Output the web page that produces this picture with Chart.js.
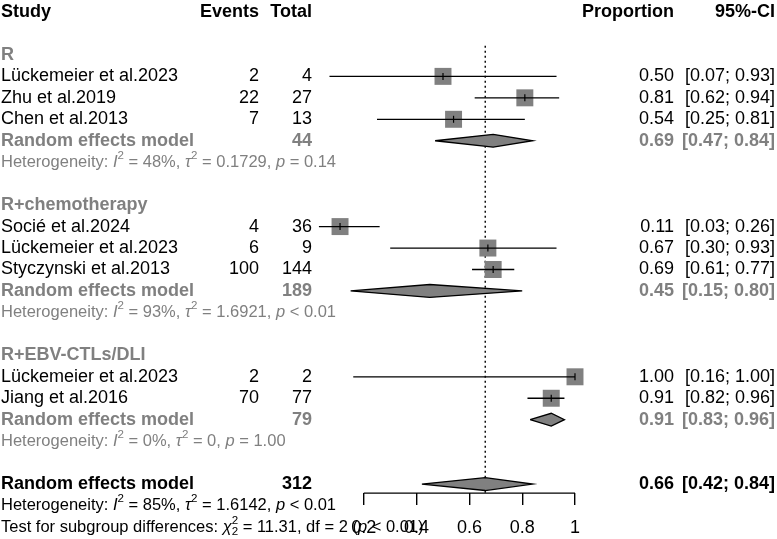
<!DOCTYPE html>
<html>
<head>
<meta charset="utf-8">
<script src="https://cdn.jsdelivr.net/npm/chart.js@4"></script>
<style>
  html, body { margin: 0; padding: 0; background: #fff; }
  #wrap { width: 777px; height: 539px; }
</style>
</head>
<body>
<div id="wrap"><canvas id="forest" width="777" height="539"></canvas></div>
<script>
// ========== DATA ==========

const groupNames = ['R', 'R+chemotherapy', 'R+EBV-CTLs/DLI'];

const studyNames = ['Lückemeier et al.2023', 'Zhu et al.2019', 'Chen et al.2013',
  'Socié et al.2024', 'Lückemeier et al.2023', 'Styczynski et al.2013',
  'Lückemeier et al.2023', 'Jiang et al.2016'];
const studyGroup  = [0, 0, 0, 1, 1, 1, 2, 2];
const studyEvents = [2, 22, 7, 4, 6, 100, 2, 70];
const studyTotals = [4, 27, 13, 36, 9, 144, 2, 77];
const studyProp   = [0.50, 0.81, 0.54, 0.11, 0.67, 0.69, 1.00, 0.91];
const studyLower  = [0.07, 0.62, 0.25, 0.03, 0.30, 0.61, 0.16, 0.82];
const studyUpper  = [0.93, 0.94, 0.81, 0.26, 0.93, 0.77, 1.00, 0.96];

const pooledTotals = [44, 189, 79];
const pooledProp   = [0.69, 0.45, 0.91];
const pooledLower  = [0.47, 0.15, 0.83];
const pooledUpper  = [0.84, 0.80, 0.96];
const hetI2   = ['48%', '93%', '0%'];
const hetTau2 = ['0.1729', '1.6921', '0'];
const hetP    = ['= 0.14', '< 0.01', '= 1.00'];

const overallTotal = 312;
const overallProp  = 0.66;
const overallLower = 0.42;
const overallUpper = 0.84;
const overallI2 = '85%', overallTau2 = '1.6142', overallP = '< 0.01';
const testChi2 = '11.31', testDf = '2', testP = '< 0.01';

const xTicks = [0.2, 0.4, 0.6, 0.8, 1];

// ========== ROW LAYOUT ==========

const GRAY = '#808080';
const FONT = '"Liberation Sans", Arial, sans-serif';
const rows = [];          // text rows: {row, kind, ...}
const studyRow = [];
const pooledRow = [];
let r = 2;
groupNames.forEach((g, gi) => {
  rows.push({ row: r++, kind: 'group', g: gi });
  studyNames.forEach((s, i) => {
    if (studyGroup[i] === gi) { studyRow[i] = r; rows.push({ row: r++, kind: 'study', i: i }); }
  });
  pooledRow[gi] = r;
  rows.push({ row: r++, kind: 'pooled', g: gi });
  rows.push({ row: r++, kind: 'het', g: gi });
  r++;
});
const overallRow = r;             // 22
const axisRow = overallRow + 0.42;
const lastRow = overallRow + 2;   // 24

// ========== DATASETS ==========

const ciData = [];
studyProp.forEach((p, i) => {
  ciData.push({ x: studyLower[i], y: studyRow[i] }, { x: studyUpper[i], y: studyRow[i] }, { x: null, y: null });
});

const dh = 0.3; // half height of diamond, in rows
function diamond(lo, est, hi, row) {
  return {
    type: 'scatter', showLine: true, fill: 'shape', clip: false, order: 3,
    data: [{ x: lo, y: row }, { x: est, y: row - dh }, { x: hi, y: row }, { x: est, y: row + dh }, { x: lo, y: row }],
    backgroundColor: GRAY, borderColor: '#000', borderWidth: 1.3, pointRadius: 0, tension: 0
  };
}

const datasets = [
  {
    // CI lines
    type: 'scatter', showLine: true, spanGaps: false, clip: false, order: 1,
    data: ciData, borderColor: '#000', borderWidth: 1.3, pointRadius: 0
  },
  {
    // point estimate ticks
    type: 'scatter', clip: false, order: 0,
    data: studyProp.map((p, i) => ({ x: p, y: studyRow[i] })),
    pointStyle: 'line', rotation: 90, pointRadius: 3.5, borderColor: '#000', borderWidth: 1.2
  },
  {
    // weight squares
    type: 'scatter', clip: false, order: 2,
    data: studyProp.map((p, i) => ({ x: p, y: studyRow[i] })),
    pointStyle: 'rect', pointRadius: 12, backgroundColor: GRAY, borderWidth: 0
  },
  ...pooledProp.map((p, gi) => diamond(pooledLower[gi], p, pooledUpper[gi], pooledRow[gi])),
  diamond(overallLower, overallProp, overallUpper, overallRow),
  {
    // reference line at overall estimate
    type: 'scatter', showLine: true, clip: false, order: 4,
    data: [{ x: overallProp, y: 1.57 }, { x: overallProp, y: axisRow }],
    borderColor: '#000', borderWidth: 1.4, borderDash: [2, 3], pointRadius: 0
  },
  {
    // axis line, from first to last tick
    type: 'scatter', showLine: true, clip: false, order: 5,
    data: [{ x: xTicks[0], y: axisRow }, { x: xTicks[xTicks.length - 1], y: axisRow }],
    borderColor: '#000', borderWidth: 1.4, pointRadius: 0
  }
];

// ========== TEXT COLUMNS ==========

const COL_STUDY = 1, COL_EVENTS = 259, COL_TOTAL = 312, COL_PROP = 674, COL_CI = 775;

function txt(ctx, s, x, y, align, color, bold, size) {
  ctx.font = (bold ? 'bold ' : '') + (size || 18) + 'px ' + FONT;
  ctx.fillStyle = color;
  ctx.textAlign = align;
  ctx.fillText(s, x, y);
}

function runs(ctx, parts, x, y, color, size) {
  ctx.textAlign = 'left';
  ctx.fillStyle = color;
  for (const p of parts) {
    const sz = (p.sup || p.sub) ? size * 0.7 : size;
    ctx.font = (p.it ? 'italic ' : '') + sz + 'px ' + FONT;
    const dy = p.sup ? -size * 0.38 : (p.sub ? size * 0.3 : 0);
    ctx.fillText(p.t, x, y + dy);
    if (!p.stay) x += ctx.measureText(p.t).width;
  }
}

function hetParts(i2, tau2, p) {
  return [{ t: 'Heterogeneity: ' }, { t: 'I', it: 1 }, { t: '2', sup: 1 }, { t: ' = ' + i2 + ', ' },
    { t: 'τ', it: 1 }, { t: '2', sup: 1 }, { t: ' = ' + tau2 + ', ' }, { t: 'p', it: 1 }, { t: ' ' + p }];
}

const ciLabel = (e, lo, hi) => [e.toFixed(2), '[' + lo.toFixed(2) + '; ' + hi.toFixed(2) + ']'];

const textPlugin = {
  id: 'forestText',
  afterDraw(chart) {
    const ctx = chart.ctx;
    const ys = chart.scales.y;
    const Y = row => ys.getPixelForValue(row);
    ctx.save();
    ctx.textBaseline = 'middle';

    // header
    txt(ctx, 'Study', COL_STUDY, Y(0), 'left', '#000', true);
    txt(ctx, 'Events', COL_EVENTS, Y(0), 'right', '#000', true);
    txt(ctx, 'Total', COL_TOTAL, Y(0), 'right', '#000', true);
    txt(ctx, 'Proportion', COL_PROP, Y(0), 'right', '#000', true);
    txt(ctx, '95%-CI', COL_CI, Y(0), 'right', '#000', true);

    rows.forEach(o => {
      const y = Y(o.row);
      if (o.kind === 'group') {
        txt(ctx, groupNames[o.g], COL_STUDY, y, 'left', GRAY, true);
      } else if (o.kind === 'study') {
        const i = o.i;
        const [e, ci] = ciLabel(studyProp[i], studyLower[i], studyUpper[i]);
        txt(ctx, studyNames[i], COL_STUDY, y, 'left', '#000', false);
        txt(ctx, String(studyEvents[i]), COL_EVENTS, y, 'right', '#000', false);
        txt(ctx, String(studyTotals[i]), COL_TOTAL, y, 'right', '#000', false);
        txt(ctx, e, COL_PROP, y, 'right', '#000', false);
        txt(ctx, ci, COL_CI, y, 'right', '#000', false);
      } else if (o.kind === 'pooled') {
        const g = o.g;
        const [e, ci] = ciLabel(pooledProp[g], pooledLower[g], pooledUpper[g]);
        txt(ctx, 'Random effects model', COL_STUDY, y, 'left', GRAY, true);
        txt(ctx, String(pooledTotals[g]), COL_TOTAL, y, 'right', GRAY, true);
        txt(ctx, e, COL_PROP, y, 'right', GRAY, true);
        txt(ctx, ci, COL_CI, y, 'right', GRAY, true);
      } else if (o.kind === 'het') {
        runs(ctx, hetParts(hetI2[o.g], hetTau2[o.g], hetP[o.g]), COL_STUDY, y, GRAY, 16.5);
      }
    });

    // overall
    const yo = Y(overallRow);
    const [oe, oci] = ciLabel(overallProp, overallLower, overallUpper);
    txt(ctx, 'Random effects model', COL_STUDY, yo, 'left', '#000', true);
    txt(ctx, String(overallTotal), COL_TOTAL, yo, 'right', '#000', true);
    txt(ctx, oe, COL_PROP, yo, 'right', '#000', true);
    txt(ctx, oci, COL_CI, yo, 'right', '#000', true);
    runs(ctx, hetParts(overallI2, overallTau2, overallP), COL_STUDY, Y(overallRow + 1), '#000', 16.5);
    runs(ctx, [{ t: 'Test for subgroup differences: ' }, { t: 'χ', it: 1 }, { t: '2', sup: 1, stay: 1 },
      { t: '2', sub: 1 }, { t: ' = ' + testChi2 + ', df = ' + testDf + ' (' }, { t: 'p', it: 1 },
      { t: ' ' + testP + ')' }], COL_STUDY, Y(lastRow), '#000', 16.5);
    ctx.restore();
  }
};

// ========== CHART ==========

new Chart(document.getElementById('forest'), {
  type: 'scatter',
  data: { datasets: datasets },
  plugins: [textPlugin],
  options: {
    responsive: false,
    animation: false,
    events: [],
    layout: { padding: { left: 311, right: 202, top: 7, bottom: 11.7 } },
    plugins: { legend: { display: false }, tooltip: { enabled: false } },
    scales: {
      x: {
        type: 'linear',
        min: 0, max: 1,
        position: { y: axisRow },
        afterBuildTicks: s => { s.ticks = xTicks.map(v => ({ value: v })); },
        ticks: {
          callback: v => String(v),
          color: '#000',
          padding: 12,
          maxRotation: 0,
          font: { family: FONT, size: 18 }
        },
        grid: { drawOnChartArea: false, drawTicks: true, tickLength: 12, color: '#000', lineWidth: 1.4 },
        border: { display: false }
      },
      y: { type: 'linear', display: false, reverse: true, min: 0, max: lastRow }
    }
  }
});
</script>
</body>
</html>
